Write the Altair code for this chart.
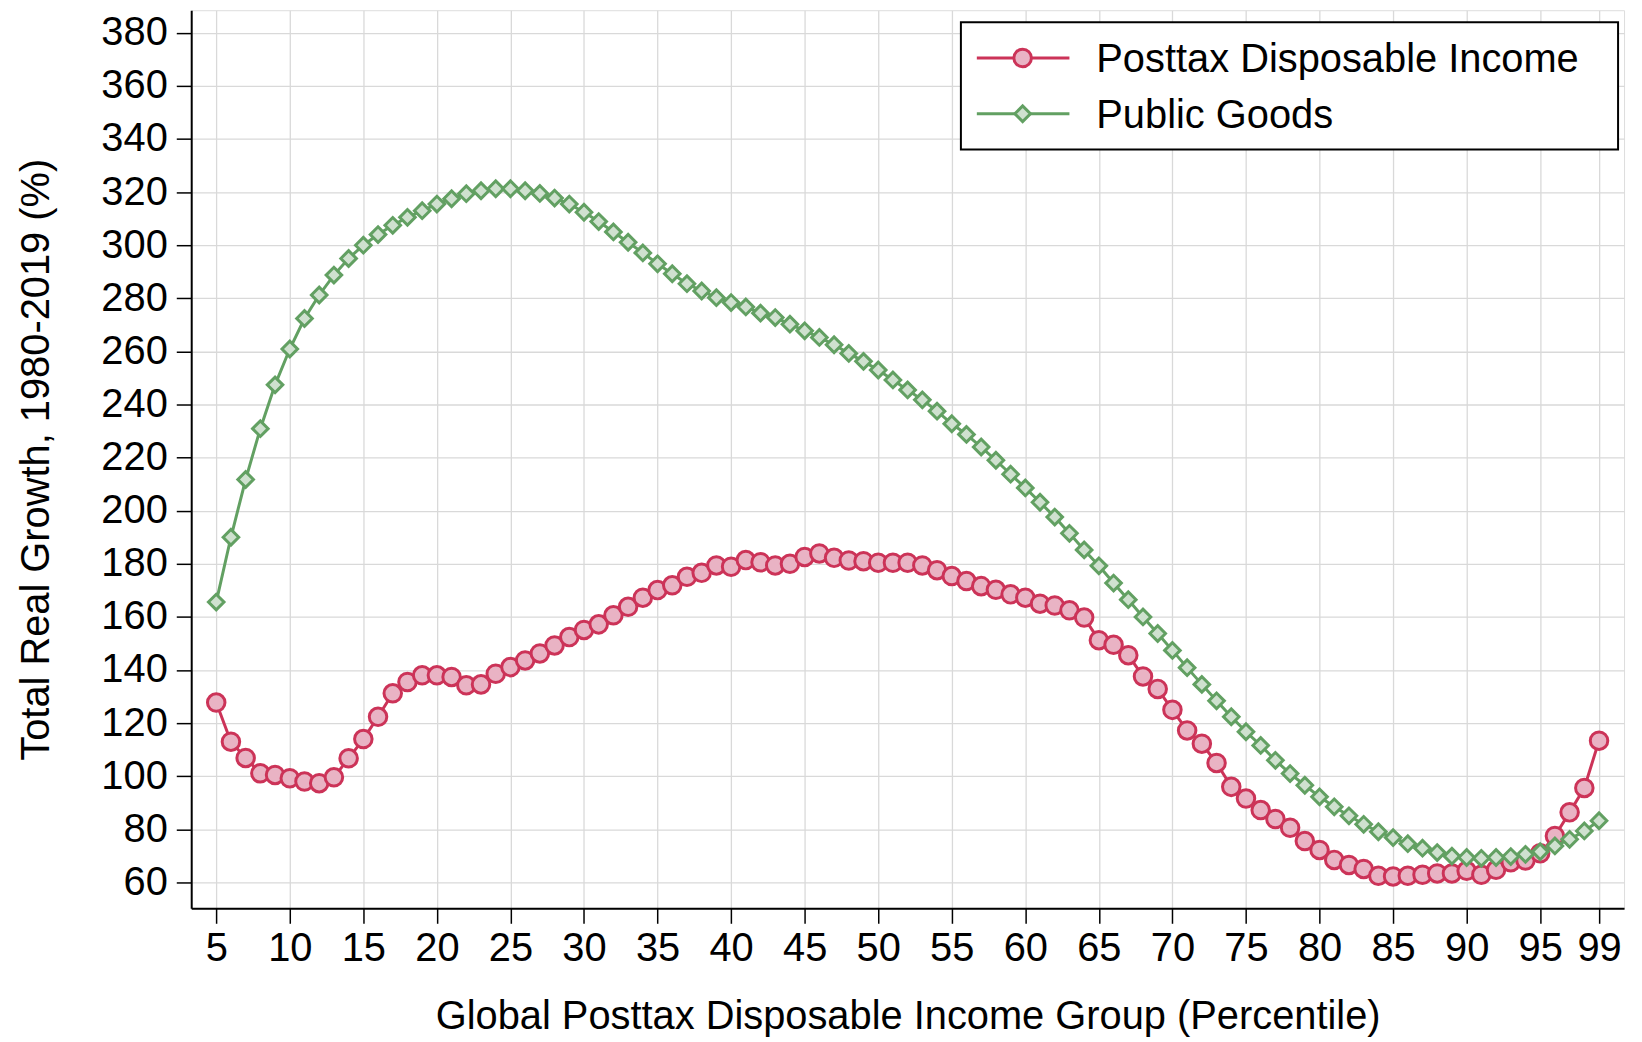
import altair as alt
import pandas as pd

percentile = list(range(5, 100))

posttax_income = [
    127.75, 113.0, 106.9, 101.1, 100.5, 99.25, 98.0, 97.4, 99.6, 106.75,
    114.0, 122.4, 131.25, 135.5, 138.0, 138.0, 137.4, 134.25, 134.6, 138.6,
    141.1, 143.6, 146.25, 149.25, 152.4, 155.1, 157.2, 160.6, 163.8, 167.25,
    170.1, 171.9, 175.1, 176.6, 179.4, 178.9, 181.4, 180.6, 179.4, 180.0,
    182.6, 183.9, 182.25, 181.25, 181.0, 180.4, 180.4, 180.4, 179.4, 177.6,
    175.4, 173.5, 171.6, 170.2, 168.5, 167.25, 165.0, 164.3, 162.5, 159.75,
    151.25, 149.5, 145.6, 137.6, 132.9, 125.0, 117.25, 112.25, 105.0, 96.0,
    91.6, 87.25, 83.9, 80.6, 75.6, 72.25, 68.5, 66.6, 65.1, 62.5,
    62.25, 62.5, 62.9, 63.4, 63.4, 64.4, 62.9, 64.75, 67.6, 68.25,
    71.0, 77.5, 86.4, 95.6, 113.4,
]

public_goods = [
    165.6, 190.0, 211.75, 230.9, 247.4, 260.9, 272.4, 281.25, 288.75, 295.0,
    300.0, 304.0, 307.5, 310.5, 313.0, 315.5, 317.5, 319.4, 320.5, 321.25,
    321.25, 320.5, 319.5, 317.75, 315.5, 312.4, 308.9, 305.0, 301.1, 297.1,
    293.0, 289.25, 285.5, 282.75, 280.25, 278.4, 276.75, 274.4, 272.75, 270.25,
    267.75, 265.25, 262.5, 259.25, 256.25, 253.0, 249.25, 245.5, 241.75, 237.5,
    232.75, 228.75, 224.0, 219.0, 213.75, 208.6, 203.2, 197.6, 191.5, 185.25,
    179.25, 172.75, 166.5, 160.0, 153.75, 147.4, 140.9, 134.6, 128.4, 122.4,
    116.75, 111.6, 106.0, 101.0, 96.6, 92.25, 88.5, 85.1, 81.9, 79.1,
    76.9, 74.6, 72.9, 71.25, 69.9, 69.4, 69.1, 69.4, 69.75, 70.6,
    71.6, 73.75, 76.25, 79.4, 83.25,
]

x_ticks = [5, 10, 15, 20, 25, 30, 35, 40, 45, 50, 55, 60, 65, 70, 75, 80, 85, 90, 95, 99]
y_ticks = list(range(60, 381, 20))
series_labels = ["Posttax Disposable Income", "Public Goods"]

PINK_S, PINK_F = "#cc3358", "#e9b3c4"
GREEN_S, GREEN_F = "#62a062", "#cfe1cf"
FONT = "Liberation Sans"
CIRC_SIZE, DIAM_SIZE, MSW, LSW = 310, 245, 3, 3

df = pd.DataFrame({"pct": percentile, "pdi": posttax_income, "pg": public_goods})

W, H = 1439, 902

xenc = alt.X(
    "pct:Q",
    scale=alt.Scale(domain=[3.3, 100.7], nice=False, zero=False),
    axis=alt.Axis(
        values=x_ticks, title="Global Posttax Disposable Income Group (Percentile)",
        labelFontSize=40, titleFontSize=40, labelFont=FONT, titleFont=FONT,
        labelColor="black", titleColor="black", titleFontWeight="normal",
        tickSize=15, tickColor="black", tickWidth=1.5, labelPadding=5,
        domainColor="black", domainWidth=2,
        grid=True, gridColor="#d9d9d9", gridWidth=1.3,
        titleBaseline="alphabetic", titleY=121, labelFlush=False, labelOverlap=False,
    ),
)
yaxis = alt.Axis(
    values=y_ticks, title="Total Real Growth, 1980-2019 (%)",
    labelFontSize=40, titleFontSize=40, labelFont=FONT, titleFont=FONT,
    labelColor="black", titleColor="black", titleFontWeight="normal",
    tickSize=15, tickColor="black", tickWidth=1.5, labelPadding=9,
    domainColor="black", domainWidth=2,
    grid=True, gridColor="#d9d9d9", gridWidth=1.3,
    titleX=-155, titleY=H / 2, titleAngle=270, titleAlign="center",
    titleBaseline="middle", labelFlush=False, labelOverlap=False,
)
yscale = alt.Scale(domain=[50.25, 388.5], nice=False, zero=False)

base = alt.Chart(df)

pdi_line = base.mark_line(color=PINK_S, strokeWidth=LSW).encode(
    x=xenc, y=alt.Y("pdi:Q", scale=yscale, axis=yaxis))
pdi_pts = base.mark_point(shape="circle", filled=True, fill=PINK_F, stroke=PINK_S,
                          strokeWidth=MSW, size=CIRC_SIZE, opacity=1).encode(
    x="pct:Q", y="pdi:Q")
pg_line = base.mark_line(color=GREEN_S, strokeWidth=LSW).encode(x="pct:Q", y="pg:Q")
pg_pts = base.mark_point(shape="diamond", filled=True, fill=GREEN_F, stroke=GREEN_S,
                         strokeWidth=MSW, size=DIAM_SIZE, opacity=1).encode(
    x="pct:Q", y="pg:Q")

# manual legend (pixel positions inside the plot area)
one = pd.DataFrame({"k": [0]})
lbox = alt.Chart(one).mark_rect(fill="white", stroke="black", strokeWidth=2).encode(
    x=alt.value(773), x2=alt.value(1433), y=alt.value(12), y2=alt.value(140))

legend_layers = [lbox]
rows = [(48, PINK_S, PINK_F, "circle", CIRC_SIZE), (104, GREEN_S, GREEN_F, "diamond", DIAM_SIZE)]
for lab, (ly, sc, fc, shp, sz) in zip(series_labels, rows):
    d = pd.DataFrame({"label": [lab]})
    legend_layers.append(
        alt.Chart(d).mark_rule(color=sc, strokeWidth=LSW).encode(
            x=alt.value(789), x2=alt.value(882), y=alt.value(ly)))
    legend_layers.append(
        alt.Chart(d).mark_point(shape=shp, filled=True, fill=fc, stroke=sc,
                                strokeWidth=MSW, size=sz, opacity=1).encode(
            x=alt.value(835), y=alt.value(ly)))
    legend_layers.append(
        alt.Chart(d).mark_text(align="left", baseline="middle", fontSize=40,
                               font=FONT, color="black").encode(
            x=alt.value(909), y=alt.value(ly + 2), text="label:N"))

chart = alt.layer(pdi_line, pdi_pts, pg_line, pg_pts, *legend_layers).properties(
    width=W, height=H,
    autosize=alt.AutoSizeParams(type="none"),
    padding={"left": 184, "top": 0, "right": 10, "bottom": 130},
).configure_view(stroke=None).configure(background="white")

chart.save("out.html", embed_options={"renderer": "svg", "actions": False})
